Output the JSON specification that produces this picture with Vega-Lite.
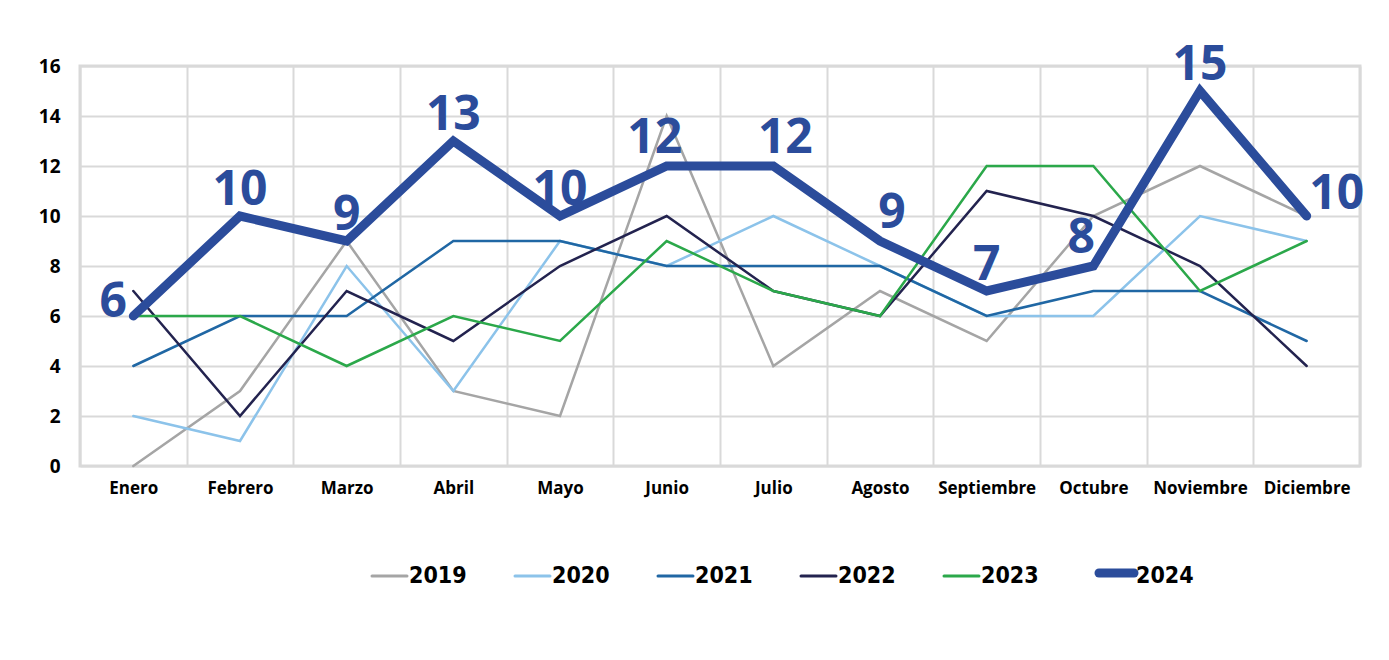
{
  "$schema": "https://vega.github.io/schema/vega-lite/v6.json",
  "width": 1280,
  "height": 400,
  "autosize": {"type": "none"},
  "padding": {"left": 80, "top": 66, "right": 29, "bottom": 194},
  "background": "white",
  "config": {
    "view": {"stroke": "#d9d9d9", "strokeWidth": 3},
    "axis": {"labelFont": "Open Sans", "labelFontWeight": "bold", "labelColor": "#000000", "gridColor": "#d9d9d9", "gridWidth": 2}
  },
  "data": {"values": [
    {"mes": "Enero", "anio": "2019", "valor": 0},
    {"mes": "Febrero", "anio": "2019", "valor": 3},
    {"mes": "Marzo", "anio": "2019", "valor": 9},
    {"mes": "Abril", "anio": "2019", "valor": 3},
    {"mes": "Mayo", "anio": "2019", "valor": 2},
    {"mes": "Junio", "anio": "2019", "valor": 14},
    {"mes": "Julio", "anio": "2019", "valor": 4},
    {"mes": "Agosto", "anio": "2019", "valor": 7},
    {"mes": "Septiembre", "anio": "2019", "valor": 5},
    {"mes": "Octubre", "anio": "2019", "valor": 10},
    {"mes": "Noviembre", "anio": "2019", "valor": 12},
    {"mes": "Diciembre", "anio": "2019", "valor": 10},
    {"mes": "Enero", "anio": "2020", "valor": 2},
    {"mes": "Febrero", "anio": "2020", "valor": 1},
    {"mes": "Marzo", "anio": "2020", "valor": 8},
    {"mes": "Abril", "anio": "2020", "valor": 3},
    {"mes": "Mayo", "anio": "2020", "valor": 9},
    {"mes": "Junio", "anio": "2020", "valor": 8},
    {"mes": "Julio", "anio": "2020", "valor": 10},
    {"mes": "Agosto", "anio": "2020", "valor": 8},
    {"mes": "Septiembre", "anio": "2020", "valor": 6},
    {"mes": "Octubre", "anio": "2020", "valor": 6},
    {"mes": "Noviembre", "anio": "2020", "valor": 10},
    {"mes": "Diciembre", "anio": "2020", "valor": 9},
    {"mes": "Enero", "anio": "2021", "valor": 4},
    {"mes": "Febrero", "anio": "2021", "valor": 6},
    {"mes": "Marzo", "anio": "2021", "valor": 6},
    {"mes": "Abril", "anio": "2021", "valor": 9},
    {"mes": "Mayo", "anio": "2021", "valor": 9},
    {"mes": "Junio", "anio": "2021", "valor": 8},
    {"mes": "Julio", "anio": "2021", "valor": 8},
    {"mes": "Agosto", "anio": "2021", "valor": 8},
    {"mes": "Septiembre", "anio": "2021", "valor": 6},
    {"mes": "Octubre", "anio": "2021", "valor": 7},
    {"mes": "Noviembre", "anio": "2021", "valor": 7},
    {"mes": "Diciembre", "anio": "2021", "valor": 5},
    {"mes": "Enero", "anio": "2022", "valor": 7},
    {"mes": "Febrero", "anio": "2022", "valor": 2},
    {"mes": "Marzo", "anio": "2022", "valor": 7},
    {"mes": "Abril", "anio": "2022", "valor": 5},
    {"mes": "Mayo", "anio": "2022", "valor": 8},
    {"mes": "Junio", "anio": "2022", "valor": 10},
    {"mes": "Julio", "anio": "2022", "valor": 7},
    {"mes": "Agosto", "anio": "2022", "valor": 6},
    {"mes": "Septiembre", "anio": "2022", "valor": 11},
    {"mes": "Octubre", "anio": "2022", "valor": 10},
    {"mes": "Noviembre", "anio": "2022", "valor": 8},
    {"mes": "Diciembre", "anio": "2022", "valor": 4},
    {"mes": "Enero", "anio": "2023", "valor": 6},
    {"mes": "Febrero", "anio": "2023", "valor": 6},
    {"mes": "Marzo", "anio": "2023", "valor": 4},
    {"mes": "Abril", "anio": "2023", "valor": 6},
    {"mes": "Mayo", "anio": "2023", "valor": 5},
    {"mes": "Junio", "anio": "2023", "valor": 9},
    {"mes": "Julio", "anio": "2023", "valor": 7},
    {"mes": "Agosto", "anio": "2023", "valor": 6},
    {"mes": "Septiembre", "anio": "2023", "valor": 12},
    {"mes": "Octubre", "anio": "2023", "valor": 12},
    {"mes": "Noviembre", "anio": "2023", "valor": 7},
    {"mes": "Diciembre", "anio": "2023", "valor": 9},
    {"mes": "Enero", "anio": "2024", "valor": 6},
    {"mes": "Febrero", "anio": "2024", "valor": 10},
    {"mes": "Marzo", "anio": "2024", "valor": 9},
    {"mes": "Abril", "anio": "2024", "valor": 13},
    {"mes": "Mayo", "anio": "2024", "valor": 10},
    {"mes": "Junio", "anio": "2024", "valor": 12},
    {"mes": "Julio", "anio": "2024", "valor": 12},
    {"mes": "Agosto", "anio": "2024", "valor": 9},
    {"mes": "Septiembre", "anio": "2024", "valor": 7},
    {"mes": "Octubre", "anio": "2024", "valor": 8},
    {"mes": "Noviembre", "anio": "2024", "valor": 15},
    {"mes": "Diciembre", "anio": "2024", "valor": 10}
  ]},
  "encoding": {
    "x": {
      "field": "mes", "type": "ordinal",
      "sort": ["Enero", "Febrero", "Marzo", "Abril", "Mayo", "Junio", "Julio", "Agosto", "Septiembre", "Octubre", "Noviembre", "Diciembre"],
      "scale": {"type": "band", "paddingInner": 0, "paddingOuter": 0},
      "bandPosition": 0.5,
      "axis": {"title": null, "labelAngle": 0, "tickBand": "extent", "ticks": false, "domain": false, "grid": true, "labelFontSize": 17, "labelPadding": 14}
    },
    "y": {
      "field": "valor", "type": "quantitative",
      "scale": {"domain": [0, 16]},
      "axis": {"title": null, "values": [0, 2, 4, 6, 8, 10, 12, 14, 16], "ticks": false, "domain": false, "grid": true, "labelFontSize": 19, "labelPadding": 20}
    }
  },
  "layer": [
    {
      "mark": {"type": "line", "strokeCap": "round"},
      "encoding": {
        "color": {
          "field": "anio", "type": "nominal",
          "scale": {"domain": ["2019", "2020", "2021", "2022", "2023", "2024"], "range": ["#A5A5A5", "#8CC3EA", "#2067A4", "#23234F", "#2BA84A", "#2B4C9B"]},
          "legend": {
            "title": null, "orient": "none", "direction": "horizontal", "legendX": 298, "legendY": 507,
            "symbolType": "M-1,0H1", "symbolSize": 1225, "symbolStrokeWidth": 3, "symbolFillColor": "transparent",
            "labelFont": "DejaVu Sans Condensed", "labelFontWeight": "bold", "labelFontSize": 23, "labelColor": "#000000",
            "labelOffset": 8, "columnPadding": 42,
            "encode": {
              "symbols": {"update": {"strokeWidth": {"signal": "datum.value === '2024' ? 9 : 3"}, "strokeCap": {"value": "round"}, "y": {"value": 0}}},
              "labels": {"update": {"y": {"signal": "datum.value === '2024' ? 3 : 0"}, "baseline": {"value": "middle"}}}
            }
          }
        },
        "strokeWidth": {"condition": {"test": "datum.anio === '2024'", "value": 9}, "value": 2.5}
      }
    },
    {
      "transform": [{"filter": "datum.anio === '2024' && indexof(['Febrero','Marzo','Abril','Mayo','Septiembre','Noviembre'], datum.mes) >= 0"}],
      "mark": {"type": "text", "font": "Open Sans", "fontWeight": "bold", "fontSize": 48, "color": "#2B4C9B", "baseline": "middle", "dy": -25},
      "encoding": {"text": {"field": "valor", "type": "quantitative"}}
    },
    {
      "transform": [{"filter": "datum.anio === '2024' && indexof(['Julio','Agosto'], datum.mes) >= 0"}],
      "mark": {"type": "text", "font": "Open Sans", "fontWeight": "bold", "fontSize": 48, "color": "#2B4C9B", "baseline": "middle", "dx": 12, "dy": -27},
      "encoding": {"text": {"field": "valor", "type": "quantitative"}}
    },
    {
      "transform": [{"filter": "datum.anio === '2024' && indexof(['Junio','Octubre'], datum.mes) >= 0"}],
      "mark": {"type": "text", "font": "Open Sans", "fontWeight": "bold", "fontSize": 48, "color": "#2B4C9B", "baseline": "middle", "dx": -12, "dy": -27},
      "encoding": {"text": {"field": "valor", "type": "quantitative"}}
    },
    {
      "transform": [{"filter": "datum.anio === '2024' && datum.mes === 'Enero'"}],
      "mark": {"type": "text", "font": "Open Sans", "fontWeight": "bold", "fontSize": 48, "color": "#2B4C9B", "baseline": "middle", "dx": -20, "dy": -13},
      "encoding": {"text": {"field": "valor", "type": "quantitative"}}
    },
    {
      "transform": [{"filter": "datum.anio === '2024' && datum.mes === 'Diciembre'"}],
      "mark": {"type": "text", "font": "Open Sans", "fontWeight": "bold", "fontSize": 48, "color": "#2B4C9B", "baseline": "middle", "dx": 30, "dy": -21},
      "encoding": {"text": {"field": "valor", "type": "quantitative"}}
    }
  ]
}
